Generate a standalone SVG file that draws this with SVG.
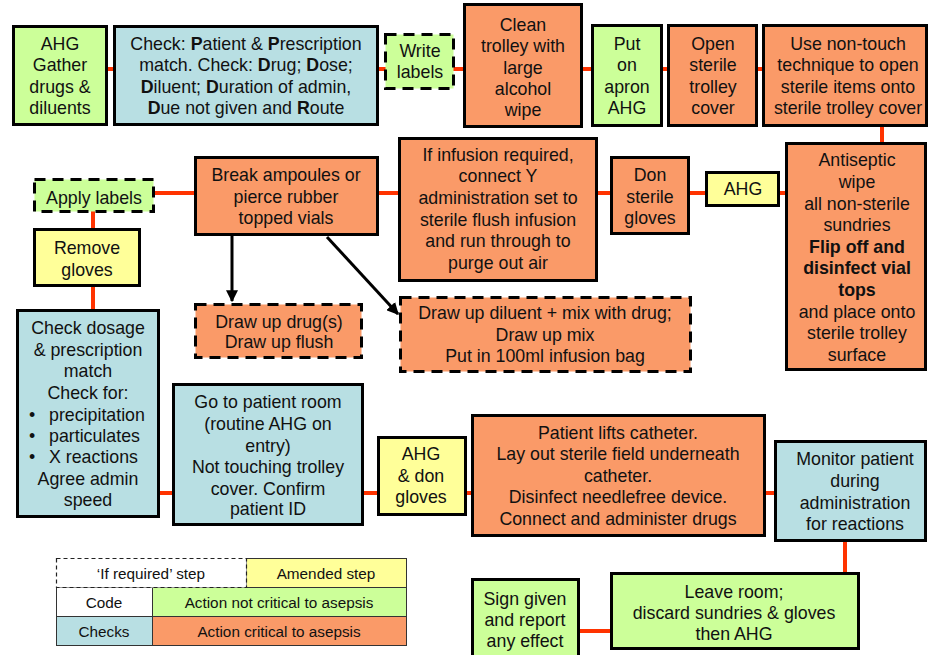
<svg xmlns="http://www.w3.org/2000/svg" width="928" height="655" viewBox="0 0 928 655">
<defs>
<style>
.b{stroke:#000;stroke-width:3}
.d{stroke:#000;stroke-width:3;stroke-dasharray:11 7}
.g{fill:#ccff99}
.c{fill:#b8dfe3}
.o{fill:#fa9a68}
.y{fill:#ffff99}
text{font-family:"Liberation Sans",Arial,sans-serif;font-size:17.8px;fill:#111;text-anchor:middle}
.l text{font-size:15.3px}
.bold{font-weight:bold}
.con line{stroke:#ff3300;stroke-width:4}
.arr line{stroke:#000;stroke-width:3}
.lg{stroke:#333;stroke-width:1}
</style>
<marker id="ah" viewBox="0 0 10 10" refX="9" refY="5" markerWidth="4" markerHeight="4" orient="auto" markerUnits="strokeWidth">
<path d="M0,0 L10,5 L0,10 z" fill="#000"/>
</marker>
</defs>
<rect width="928" height="655" fill="#fff"/>

<g id="connectors">
<g class="con">
<line x1="106" y1="69" x2="115" y2="69"/>
<line x1="377" y1="69" x2="386" y2="69"/>
<line x1="453" y1="69" x2="465" y2="69"/>
<line x1="581" y1="69" x2="593" y2="69"/>
<line x1="661" y1="69" x2="669" y2="69"/>
<line x1="756" y1="69" x2="764" y2="69"/>
<line x1="882" y1="125" x2="882" y2="144"/>
<line x1="778" y1="193" x2="787" y2="193"/>
<line x1="688" y1="193" x2="707" y2="193"/>
<line x1="596" y1="193" x2="612" y2="193"/>
<line x1="377" y1="193" x2="400" y2="193"/>
<line x1="153" y1="193" x2="196" y2="193"/>
<line x1="93" y1="211" x2="93" y2="230"/>
<line x1="93" y1="285" x2="93" y2="311"/>
<line x1="158" y1="493" x2="174" y2="493"/>
<line x1="362" y1="493" x2="379" y2="493"/>
<line x1="465" y1="493" x2="473" y2="493"/>
<line x1="764" y1="493" x2="776" y2="493"/>
<line x1="845" y1="540" x2="845" y2="574"/>
<line x1="578" y1="631" x2="612" y2="631"/>
</g>
<g class="arr">
<line x1="232" y1="236" x2="232" y2="301" marker-end="url(#ah)"/>
<line x1="327" y1="237" x2="398" y2="314" marker-end="url(#ah)"/>
</g>
</g>

<g id="n1"><rect class="b g" x="13.5" y="26.5" width="93" height="98"/>
<text x="60" y="50">AHG</text><text x="60" y="71">Gather</text><text x="60" y="93">drugs &amp;</text><text x="60" y="114">diluents</text></g>

<g id="n2"><rect class="b c" x="114.5" y="26.5" width="263" height="98"/>
<text x="246" y="50">Check: <tspan class="bold">P</tspan>atient &amp; <tspan class="bold">P</tspan>rescription</text>
<text x="246" y="71">match. Check: <tspan class="bold">D</tspan>rug; <tspan class="bold">D</tspan>ose;</text>
<text x="246" y="93"><tspan class="bold">D</tspan>iluent; <tspan class="bold">D</tspan>uration of admin,</text>
<text x="246" y="114"><tspan class="bold">D</tspan>ue not given and <tspan class="bold">R</tspan>oute</text></g>

<g id="n3"><rect class="d g" x="385.5" y="34.5" width="68" height="54"/>
<text x="420" y="57">Write</text><text x="420" y="78">labels</text></g>

<g id="n4"><rect class="b o" x="464.5" y="4.5" width="117" height="122"/>
<text x="523" y="31">Clean</text><text x="523" y="52">trolley with</text><text x="523" y="74">large</text><text x="523" y="95">alcohol</text><text x="523" y="116">wipe</text></g>

<g id="n5"><rect class="b g" x="592.5" y="25.5" width="69" height="100"/>
<text x="627" y="50">Put</text><text x="627" y="71">on</text><text x="627" y="93">apron</text><text x="627" y="114">AHG</text></g>

<g id="n6"><rect class="b o" x="668.5" y="25.5" width="88" height="100"/>
<text x="713" y="50">Open</text><text x="713" y="71">sterile</text><text x="713" y="93">trolley</text><text x="713" y="114">cover</text></g>

<g id="n7"><rect class="b o" x="763.5" y="25.5" width="163" height="100"/>
<text x="848" y="50">Use non-touch</text><text x="848" y="71">technique to open</text><text x="848" y="93">sterile items onto</text><text x="848" y="114">sterile trolley cover</text></g>

<g id="n8"><rect class="b o" x="786.5" y="143.5" width="139" height="226"/>
<text x="857" y="166">Antiseptic</text><text x="857" y="188">wipe</text><text x="857" y="210">all non-sterile</text><text x="857" y="231">sundries</text>
<text x="857" y="253" class="bold">Flip off and</text><text x="857" y="274" class="bold">disinfect vial</text><text x="857" y="296" class="bold">tops</text>
<text x="857" y="318">and place onto</text><text x="857" y="339">sterile trolley</text><text x="857" y="361">surface</text></g>

<g id="n9"><rect class="b y" x="706.5" y="172.5" width="72" height="33"/>
<text x="743" y="195">AHG</text></g>

<g id="n10"><rect class="b o" x="611.5" y="157.5" width="77" height="76"/>
<text x="650" y="181">Don</text><text x="650" y="203">sterile</text><text x="650" y="224">gloves</text></g>

<g id="n11"><rect class="b o" x="399.5" y="138.5" width="197" height="142"/>
<text x="498" y="161">If infusion required,</text><text x="498" y="182">connect Y</text><text x="498" y="204">administration set to</text><text x="498" y="226">sterile flush infusion</text><text x="498" y="247">and run through to</text><text x="498" y="269">purge out air</text></g>

<g id="n12"><rect class="b o" x="195.5" y="157.5" width="182" height="77"/>
<text x="286" y="181">Break ampoules or</text><text x="286" y="203">pierce rubber</text><text x="286" y="224">topped vials</text></g>

<g id="n13"><rect class="d g" x="34.5" y="179.5" width="119" height="32"/>
<text x="94" y="204">Apply labels</text></g>

<g id="n14"><rect class="b y" x="34.5" y="229.5" width="105" height="56"/>
<text x="87" y="254">Remove</text><text x="87" y="276">gloves</text></g>

<g id="n15"><rect class="b c" x="17.5" y="310.5" width="141" height="206"/>
<text x="88" y="334">Check dosage</text><text x="88" y="356">&amp; prescription</text><text x="88" y="377">match</text><text x="88" y="399">Check for:</text>
<text x="32" y="421">•</text><text x="49" y="421" style="text-anchor:start">precipitation</text>
<text x="32" y="442">•</text><text x="49" y="442" style="text-anchor:start">particulates</text>
<text x="32" y="463">•</text><text x="49" y="463" style="text-anchor:start">X reactions</text>
<text x="88" y="485">Agree admin</text><text x="88" y="506">speed</text></g>

<g id="n16"><rect class="d o" x="195.5" y="304.5" width="166" height="53"/>
<text x="279" y="328">Draw up drug(s)</text><text x="279" y="348">Draw up flush</text></g>

<g id="n17"><rect class="d o" x="400.5" y="297.5" width="290" height="74"/>
<text x="545" y="319">Draw up diluent + mix with drug;</text><text x="545" y="341">Draw up mix</text><text x="545" y="362">Put in 100ml infusion bag</text></g>

<g id="n18"><rect class="b c" x="173.5" y="384.5" width="189" height="140"/>
<text x="268" y="408">Go to patient room</text><text x="268" y="430">(routine AHG on</text><text x="268" y="452">entry)</text><text x="268" y="473">Not touching trolley</text><text x="268" y="495">cover. Confirm</text><text x="268" y="515">patient ID</text></g>

<g id="n19"><rect class="b y" x="378.5" y="437.5" width="87" height="77"/>
<text x="421" y="460">AHG</text><text x="421" y="482">&amp; don</text><text x="421" y="503">gloves</text></g>

<g id="n20"><rect class="b o" x="472.5" y="415.5" width="292" height="120"/>
<text x="618" y="439">Patient lifts catheter.</text><text x="618" y="460">Lay out sterile field underneath</text><text x="618" y="482">catheter.</text><text x="618" y="503">Disinfect needlefree device.</text><text x="618" y="525">Connect and administer drugs</text></g>

<g id="n21"><rect class="b c" x="775.5" y="441.5" width="150" height="99"/>
<text x="855" y="465">Monitor patient</text><text x="855" y="487">during</text><text x="855" y="509">administration</text><text x="855" y="530">for reactions</text></g>

<g id="n22"><rect class="b g" x="611.5" y="573.5" width="247" height="75"/>
<text x="734" y="598">Leave room;</text><text x="734" y="619">discard sundries &amp; gloves</text><text x="734" y="640">then AHG</text></g>

<g id="n23"><rect class="b g" x="472.5" y="579.5" width="106" height="80"/>
<text x="525" y="605">Sign given</text><text x="525" y="626">and report</text><text x="525" y="647">any effect</text></g>

<g id="legend" class="l">
<rect x="246.5" y="558.5" width="160" height="29" class="lg y"/>
<rect x="56.5" y="587.5" width="96" height="29" class="lg" fill="#fff"/>
<rect x="152.5" y="587.5" width="254" height="29" class="lg g"/>
<rect x="56.5" y="616.5" width="96" height="29" class="lg c"/>
<rect x="152.5" y="616.5" width="254" height="29" class="lg o"/>
<rect x="56.5" y="558.5" width="190" height="29" fill="#fff" stroke="#222" stroke-width="1.2" stroke-dasharray="4 3"/>
<text x="151" y="579">‘If required’ step</text>
<text x="326" y="579">Amended step</text>
<text x="104" y="608">Code</text>
<text x="279" y="608">Action not critical to asepsis</text>
<text x="104" y="637">Checks</text>
<text x="279" y="637">Action critical to asepsis</text>
</g>
</svg>
